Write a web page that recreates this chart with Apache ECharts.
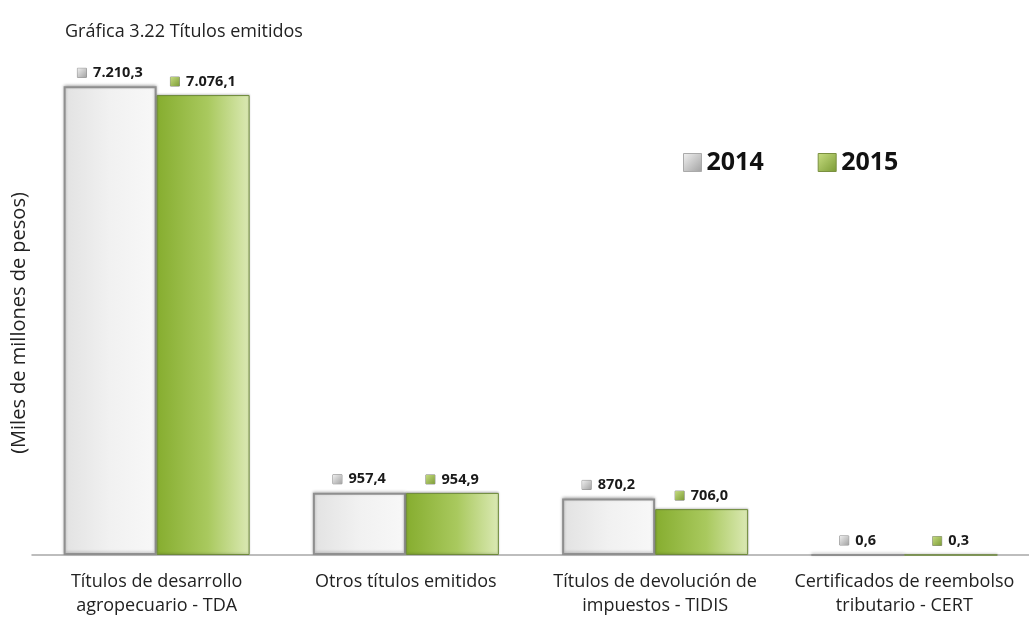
<!DOCTYPE html>
<html>
<head>
<meta charset="utf-8">
<script src="https://cdn.jsdelivr.net/npm/echarts@6/dist/echarts.min.js"></script>
<style>html,body{margin:0;padding:0;background:#fff;}#c{width:1029px;height:621px;}</style>
</head>
<body>
<div id="c"></div>
<script>
const titleText = 'Gráfica 3.22 Títulos emitidos';
const yAxisName = '(Miles de millones de pesos)';
const categories = [
  'Títulos de desarrollo\nagropecuario - TDA',
  'Otros títulos emitidos',
  'Títulos de devolución de\nimpuestos - TIDIS',
  'Certificados de reembolso\ntributario - CERT'
];
const seriesNames = ['2014', '2015'];
const values2014 = [7210.3, 957.4, 870.2, 0.6];
const values2015 = [7076.1, 954.9, 706.0, 0.3];

function fmt(v) {
  const parts = v.toFixed(1).split('.');
  const intPart = parts[0].replace(/\B(?=(\d{3})+(?!\d))/g, '.');
  return intPart + ',' + parts[1];
}

const grayFill = new echarts.graphic.LinearGradient(0, 0, 1, 0, [
  {offset: 0, color: '#e2e2e2'}, {offset: 0.5, color: '#f1f1f1'}, {offset: 1, color: '#f8f8f8'}
]);
const greenFill = new echarts.graphic.LinearGradient(0, 0, 1, 0, [
  {offset: 0, color: '#86ad2f'}, {offset: 0.55, color: '#a9c95e'}, {offset: 1, color: '#dbe9b4'}
]);
const graySq = new echarts.graphic.LinearGradient(0, 0, 1, 1, [
  {offset: 0, color: '#f2f2f2'}, {offset: 1, color: '#a0a0a0'}
]);
const greenSq = new echarts.graphic.LinearGradient(0, 0, 1, 1, [
  {offset: 0, color: '#c8de82'}, {offset: 1, color: '#7a9a34'}
]);

function labelCfg(sq) {
  return {
    show: true,
    position: 'top',
    distance: 6,
    formatter: p => '{s|}  {v|' + fmt(p.value) + '}',
    rich: {
      s: {width: 9, height: 9, backgroundColor: sq, borderColor: '#888', borderWidth: 0.5},
      v: {fontSize: 14.5, fontWeight: 'bold', color: '#1a1a1a', fontFamily: 'Open Sans'}
    }
  };
}

const chart = echarts.init(document.getElementById('c'), null, {renderer: 'canvas'});
chart.setOption({
  animation: false,
  backgroundColor: '#fff',
  title: {
    text: titleText, left: 60, top: 18,
    textStyle: {fontSize: 18, fontWeight: 'normal', color: '#222', fontFamily: 'Open Sans'}
  },
  legend: {
    data: [
      {name: seriesNames[0], itemStyle: {color: graySq, borderColor: '#aaa', borderWidth: 1}},
      {name: seriesNames[1], itemStyle: {color: greenSq, borderColor: '#7a9040', borderWidth: 1}}
    ],
    left: 678, top: 145, icon: 'rect', itemWidth: 18, itemHeight: 18, itemGap: 54,
    textStyle: {fontSize: 25, fontWeight: 'bold', color: '#111', fontFamily: 'Open Sans'}
  },
  grid: {left: 32, right: 0, top: 35, bottom: 66, containLabel: false},
  graphic: [{
    type: 'text', x: 19, y: 323, rotation: Math.PI / 2,
    style: {text: yAxisName, fontSize: 20, fill: '#222', fontFamily: 'Open Sans', align: 'center', verticalAlign: 'middle'}
  }],
  xAxis: {
    type: 'category', data: categories,
    axisLine: {lineStyle: {color: '#a8a8a8', width: 1.5}},
    axisTick: {show: false},
    axisLabel: {fontSize: 18, color: '#222', fontFamily: 'Open Sans', lineHeight: 24, margin: 15, interval: 0}
  },
  yAxis: {
    type: 'value', min: 0, max: 8000,
    axisLine: {show: false}, axisTick: {show: false}, axisLabel: {show: false}, splitLine: {show: false}
  },
  series: [
    {
      name: seriesNames[0], type: 'bar', data: values2014, barWidth: 93, barGap: '0%',
      itemStyle: {color: grayFill, borderColor: '#8f8f8f', borderWidth: 2,
        shadowColor: 'rgba(0,0,0,0.25)', shadowBlur: 3, shadowOffsetY: -1},
      label: labelCfg(graySq)
    },
    {
      name: seriesNames[1], type: 'bar', data: values2015, barWidth: 93,
      itemStyle: {color: greenFill, borderColor: '#6e8a3a', borderWidth: 1,
        shadowColor: 'rgba(0,0,0,0.2)', shadowBlur: 2, shadowOffsetY: -1},
      label: labelCfg(greenSq)
    }
  ]
});
</script>
</body>
</html>
